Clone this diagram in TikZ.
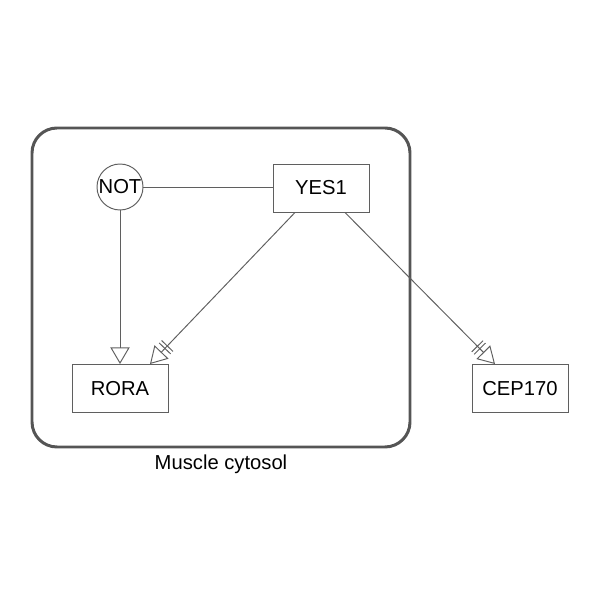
\documentclass[tikz,border=0pt]{standalone}
\usepackage{fontspec}
\setmainfont{Liberation Sans}
\usetikzlibrary{arrows.meta,positioning}
\definecolor{edgegray}{RGB}{95,95,95}
\definecolor{compgray}{RGB}{85,85,85}

\begin{document}
\begin{tikzpicture}[
    gene/.style={draw=edgegray,line width=0.55pt,minimum width=1.92cm,minimum height=0.96cm,inner sep=0pt,font=\fontsize{11.5}{13}\selectfont},
    logic/.style={draw=edgegray,line width=0.55pt,circle,minimum size=0.92cm,inner sep=0pt,font=\fontsize{11.5}{13}\selectfont},
    link/.style={edgegray,line width=0.55pt},
    activates/.style={link,-{Triangle[open,length=9.5pt,width=11pt]}},
    binds/.style={link,-{Bar[width=9pt,sep=1.4pt]Bar[width=9pt,sep=2.5pt]Triangle[open,length=9.5pt,width=11pt]}}
  ]
    \useasboundingbox (0,0) rectangle (12,12);
    % compartment
    \draw[compgray,line width=1.7pt,rounded corners=0.5cm] (0.64,3.06) rectangle (8.2,9.44);
    \node[font=\fontsize{11.5}{13}\selectfont] (cytosol) at (4.42,2.72) {Muscle cytosol};

    \node[logic] (not) at (2.4,8.26) {NOT};
    \node[gene] (yes1) at (6.42,8.24) {YES1};
    \node[gene] (rora) at (2.4,4.23) {RORA};
    \node[gene] (cep170) at (10.4,4.23) {CEP170};

    \draw[link] (not) -- (not -| yes1.west);
    \draw[activates] (not) -- (rora);
    \draw[binds] ([xshift=-0.52cm]yes1.south) -- ([xshift=0.6cm]rora.north);
    \draw[binds] ([xshift=0.48cm]yes1.south) -- ([xshift=-0.5cm]cep170.north);
  \end{tikzpicture}
\end{document}
